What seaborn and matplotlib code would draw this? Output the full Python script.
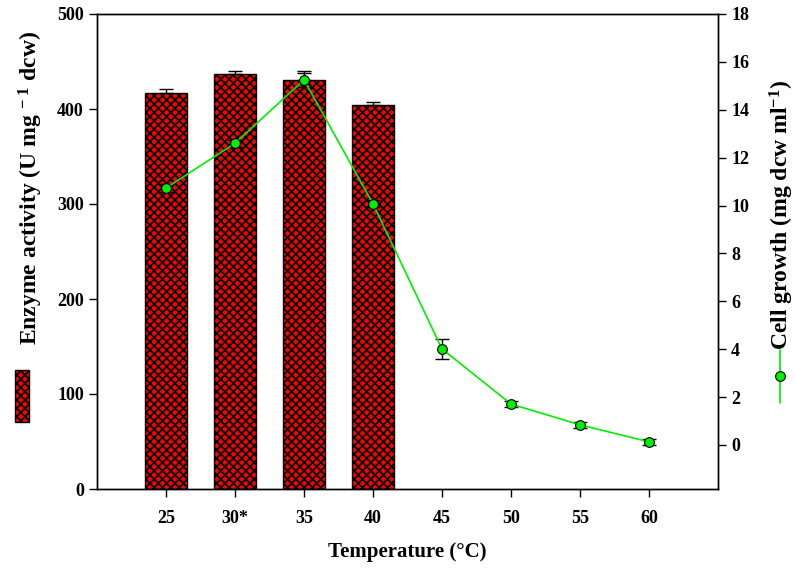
import matplotlib
matplotlib.use("Agg")
import matplotlib.pyplot as plt
import seaborn as sns
import numpy as np
import pandas as pd
from matplotlib.patches import Rectangle
from matplotlib.lines import Line2D

temps = ["25", "30*", "35", "40", "45", "50", "55", "60"]
bar_temps = ["25", "30*", "35", "40"]
enzyme = [417, 437, 430, 404]
enzyme_err = [4, 3, 10, 3.5]
growth = [10.73, 12.6, 15.25, 10.07, 4.01, 1.71, 0.84, 0.13]
growth_err = [0.15, 0.15, 0.3, 0.15, 0.4, 0.12, 0.12, 0.12]

sns.set_theme(style="ticks")
plt.rcParams["font.family"] = ["Liberation Serif", "DejaVu Serif"]
plt.rcParams["font.weight"] = "bold"
plt.rcParams["mathtext.fontset"] = "custom"
plt.rcParams["mathtext.rm"] = "Liberation Serif:bold"
plt.rcParams["mathtext.bf"] = "Liberation Serif:bold"
plt.rcParams["mathtext.default"] = "bf"
plt.rcParams["hatch.linewidth"] = 1.3
plt.rcParams["hatch.color"] = "black"
for k in ["text.color", "axes.labelcolor", "xtick.color", "ytick.color", "axes.edgecolor"]:
    plt.rcParams[k] = "black"

GREEN = "#00f000"
HATCH = "xxxx"

fig = plt.figure(figsize=(7.95, 5.74), dpi=100)
ax = fig.add_axes([97/795, 1-489/574, (718-97)/795, (489-14)/574])

df_bar = pd.DataFrame({"temp": bar_temps, "enzyme": enzyme})
sns.barplot(data=df_bar, x="temp", y="enzyme", order=temps, ax=ax,
            color="red", width=0.61, edgecolor="black", linewidth=1.0,
            errorbar=None, saturation=1)
for p in ax.patches:
    p.set_hatch(HATCH)
bx = [temps.index(t) for t in bar_temps]
ax.errorbar(bx, enzyme, yerr=[np.zeros(len(enzyme)), enzyme_err], fmt="none",
            ecolor="black", elinewidth=1, capsize=5, capthick=1)

ax.set_xlim(-1, len(temps))
ax.set_ylim(0, 500)
ax.set_yticks([0, 100, 200, 300, 400, 500])
ax.set_xlabel("Temperature (°C)", fontsize=15, fontweight="bold", color="black")
ax.xaxis.set_label_coords(0.5, (489-542)/475)
ax.set_ylabel("Enzyme activity (U mg$^{\\,-1}$ dcw)", fontsize=17, fontweight="bold", color="black")
ax.yaxis.label.set_va("center")
ax.yaxis.set_label_coords((31-97)/621, (489-188)/475)
ax.tick_params(axis="both", labelsize=13, width=1, length=6, direction="out",
               colors="black", labelcolor="black")
ax.tick_params(axis="x", pad=9)
for lab in ax.get_xticklabels() + ax.get_yticklabels():
    lab.set_fontweight("bold")
for s in ax.spines.values():
    s.set_visible(True)
    s.set_linewidth(1)
    s.set_color("black")

ax2 = ax.twinx()
xpos = np.arange(len(temps))
df_line = pd.DataFrame({"x": xpos, "growth": growth})
ax2.errorbar(xpos, growth, yerr=growth_err, fmt="none", ecolor="black",
             elinewidth=1, capsize=5, capthick=1, zorder=2)
sns.lineplot(data=df_line, x="x", y="growth", ax=ax2, color=GREEN, linewidth=1.2,
             marker="o", markersize=7, markerfacecolor=GREEN,
             markeredgecolor="black", markeredgewidth=0.8, zorder=3)
ax2.set_ylim(-1.84, 18)
ax2.set_yticks(np.arange(0, 19, 2))
ax2.set_ylabel("Cell growth (mg dcw ml$^{-1}$)", fontsize=17, fontweight="bold", color="black")
ax2.yaxis.label.set_va("center")
ax2.yaxis.set_label_coords((782-97)/621, (489-215)/475)
ax2.set_xlabel("")
ax2.tick_params(axis="y", labelsize=13, width=1, length=6, direction="out",
                colors="black", labelcolor="black")
for lab in ax2.get_yticklabels():
    lab.set_fontweight("bold")
ax2.set_xlim(-1, len(temps))
for s in ax2.spines.values():
    s.set_linewidth(1)
    s.set_color("black")

# legend symbols beside axis labels
fig.patches.append(Rectangle((15/795, 1-422/574), 14/795, 52/574, transform=fig.transFigure,
                             facecolor="red", edgecolor="black", hatch=HATCH, linewidth=1))
fig.lines.append(Line2D([780/795, 780/795], [1-403/574, 1-350/574], transform=fig.transFigure,
                        color=GREEN, linewidth=1.2))
fig.lines.append(Line2D([780/795], [1-376/574], transform=fig.transFigure, marker="o",
                        markersize=7, markerfacecolor=GREEN, markeredgecolor="black",
                        markeredgewidth=0.8, linestyle="none"))

fig.savefig("out.png", dpi=100)
